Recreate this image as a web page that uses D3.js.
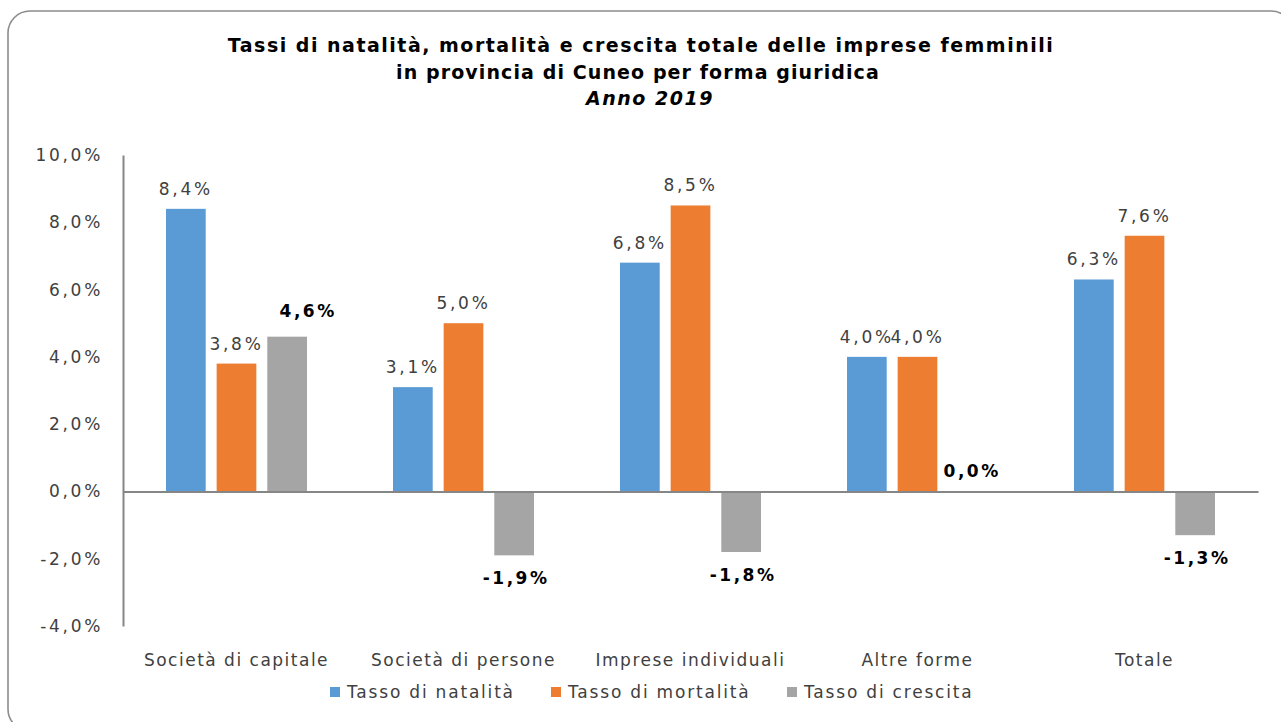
<!DOCTYPE html>
<html><head><meta charset="utf-8">
<script src="https://cdn.jsdelivr.net/npm/d3@7"></script>
<style>
html,body{margin:0;padding:0;background:#fff;}
svg{display:block;}
</style></head>
<body>
<svg id="chart" width="1281" height="722"></svg>
<script>
const categories = ["Società di capitale","Società di persone","Imprese individuali","Altre forme","Totale"];
const seriesNames = ["Tasso di natalità","Tasso di mortalità","Tasso di crescita"];
const natalita = [8.4, 3.1, 6.8, 4.0, 6.3];
const mortalita = [3.8, 5.0, 8.5, 4.0, 7.6];
const crescita = [4.6, -1.9, -1.8, 0.0, -1.3];
const yTicks = [-4, -2, 0, 2, 4, 6, 8, 10];
const titleLines = ["Tassi di natalità, mortalità e crescita totale delle imprese femminili","in provincia di Cuneo per forma giuridica","Anno 2019"];
const colors = ["#5B9BD5","#ED7D31","#A5A5A5"];

const values = [natalita, mortalita, crescita];
const svg = d3.select("#chart");
const font = "'DejaVu Sans', sans-serif";

svg.append("rect").attr("x",8).attr("y",11).attr("width",1285).attr("height",720)
  .attr("rx",22).attr("fill","#fff").attr("stroke","#8c8c8c").attr("stroke-width",1.6);

const plot = {left:123, right:1258, top:155, bottom:626};
const x0 = d3.scaleBand().domain(categories).range([plot.left, plot.right]).padding(0);
const x1 = d3.scaleBand().domain(seriesNames).range([43, 184]).paddingInner(0.216).paddingOuter(0);
const y = d3.scaleLinear().domain([-4, 10]).range([plot.bottom, plot.top]);
const fmt = v => d3.format(".1f")(v).replace(".",",").replace("−","-") + "%";

// title
const title = svg.append("text").attr("text-anchor","middle").attr("font-family",font)
  .attr("font-weight","bold").attr("font-size",19).attr("fill","#000")
  .attr("letter-spacing",1.5);
titleLines.forEach((t,i)=>{
  title.append("tspan").attr("x", i===2 ? 650 : (i===1 ? 638 : 641)).attr("y",52+i*26.5).text(t)
    .attr("letter-spacing", i===1 ? 1.1 : 1.5)
    .attr("font-style", i===2 ? "italic" : null);
});

// y axis
const yAxis = d3.axisLeft(y).tickValues(yTicks).tickSize(0).tickPadding(20).tickFormat(fmt);
const gy = svg.append("g").attr("transform",`translate(${plot.left},0)`).call(yAxis);
gy.select(".domain").attr("stroke","#868686").attr("stroke-width",2);
gy.selectAll("text").attr("font-family",font).attr("font-size",17).attr("fill","#404040")
  .attr("letter-spacing",2.7);

// bars
const groups = svg.append("g").selectAll("g").data(categories).join("g")
  .attr("transform", d => `translate(${x0(d)},0)`);
seriesNames.forEach((s,si)=>{
  groups.append("rect")
    .attr("x", x1(s)).attr("width", x1.bandwidth())
    .attr("y", (d,ci)=> y(Math.max(0, values[si][ci])))
    .attr("height", (d,ci)=> Math.abs(y(values[si][ci]) - y(0)))
    .attr("fill", colors[si]);
});

// x baseline
const xAxis = d3.axisBottom(x0).tickSize(0).tickPadding(0);
const gx = svg.append("g").attr("transform",`translate(0,${y(0)})`).call(xAxis);
gx.select(".domain").attr("stroke","#868686").attr("stroke-width",2);
gx.selectAll("text").remove();

// category labels
svg.append("g").selectAll("text").data(categories).join("text")
  .attr("x", d => x0(d) + x0.bandwidth()/2).attr("y", 660)
  .attr("text-anchor","middle").attr("dominant-baseline","central")
  .attr("font-family",font).attr("font-size",17).attr("fill","#404040")
  .attr("letter-spacing",1.5).text(d=>d);

// data labels
seriesNames.forEach((s,si)=>{
  groups.append("text")
    .attr("x", x1(s) + x1.bandwidth()/2)
    .attr("y", (d,ci)=> {
      const v = values[si][ci];
      if (si===2) return v < 0 ? y(v) + 23 : y(v) - (v>0 ? 26 : 20);
      return y(v) - 20;
    })
    .attr("dx", (d,ci)=> {
      const v = values[si][ci];
      if (si!==2) return 0;
      return v > 0 ? 21 : (v === 0 ? 4 : 2);
    })
    .attr("text-anchor","middle").attr("dominant-baseline","central")
    .attr("font-family",font).attr("font-size",17)
    .attr("letter-spacing", si===2 ? 2.5 : 2.7)
    .attr("font-weight", si===2 ? "bold" : "normal")
    .attr("fill", si===2 ? "#000" : "#404040")
    .text((d,ci)=> fmt(values[si][ci]));
});

// legend
const legendX = [330, 551, 787];
const lg = svg.append("g").selectAll("g").data(seriesNames).join("g")
  .attr("transform",(d,i)=>`translate(${legendX[i]},692)`);
lg.append("rect").attr("x",0).attr("y",-5).attr("width",10).attr("height",10).attr("fill",(d,i)=>colors[i]);
lg.append("text").attr("x",17).attr("y",0).attr("dominant-baseline","central")
  .attr("font-family",font).attr("font-size",17).attr("fill","#404040")
  .attr("letter-spacing",1.8).text(d=>d);
</script>
</body></html>
